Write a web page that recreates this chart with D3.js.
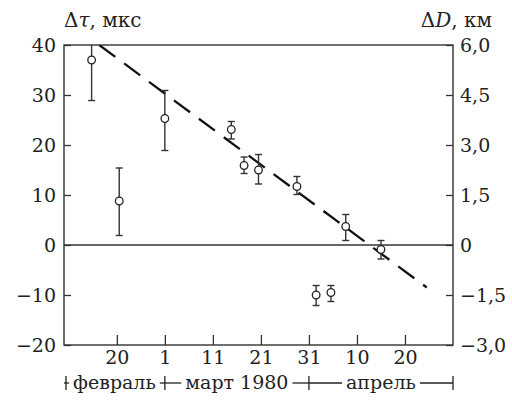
<!DOCTYPE html>
<html>
<head>
<meta charset="utf-8">
<script src="https://cdn.jsdelivr.net/npm/d3@7"></script>
<style>
  body { margin: 0; background: #fff; }
  svg text { font-family: "DejaVu Serif", "Liberation Serif", serif; fill: #222; }
</style>
</head>
<body>
<svg id="chart" width="512" height="405"></svg>
<script>
// Data
const obsDates = ['1980-02-14 18', '1980-02-20 12', '1980-03-01 00', '1980-03-14 20', '1980-03-17 12',
  '1980-03-20 12', '1980-03-28 12', '1980-04-01 12', '1980-04-04 14', '1980-04-07 16', '1980-04-15 00'];
const tauVal = [37.0, 8.8, 25.3, 23.1, 15.9, 15.0, 11.7, -10.0, -9.5, 3.7, -0.9];
const tauHigh = [45.0, 15.4, 30.9, 24.7, 17.6, 18.1, 13.7, -8.1, -8.1, 6.1, 0.9];
const tauLow = [28.9, 1.9, 18.9, 21.2, 14.3, 12.2, 10.1, -12.1, -11.3, 0.9, -2.8];

// fitted trend (dashed)
const trendDates = ['1980-02-16 08', '1980-04-24 13'];
const trendVal = [40, -8.5];

const xTicks = ['1980-02-20 00', '1980-03-01 00', '1980-03-11 00', '1980-03-21 00',
  '1980-03-31 00', '1980-04-10 00', '1980-04-20 00'];
const leftTicks = [-20, -10, 0, 10, 20, 30, 40];
const rightTicks = [-3, -1.5, 0, 1.5, 3, 4.5, 6];

const monthBounds = ['1980-02-09 00', '1980-03-01 00', '1980-03-31 00', '1980-04-30 00'];
const monthNames = ['февраль', 'март 1980', 'апрель'];

const parse = d3.timeParse('%Y-%m-%d %H');

const mLeft = 64, mRight = 453, mTop = 45, mBottom = 345;
const serif = '"DejaVu Serif", "Liberation Serif", serif';

const svg = d3.select('#chart');

const x = d3.scaleTime()
  .domain([parse(monthBounds[0]), parse(monthBounds[3])])
  .range([mLeft, mRight]);
const y = d3.scaleLinear().domain([-20, 40]).range([mBottom, mTop]);
const y2 = d3.scaleLinear().domain([-3, 6]).range([mBottom, mTop]);

const minus = s => s.replace('-', '\u2212');
const fmtRight = v => v === 0 ? '0' : minus(d3.format('.1f')(v).replace('.', ','));

svg.append('defs').append('clipPath').attr('id', 'plot')
  .append('rect').attr('x', mLeft).attr('y', mTop).attr('width', mRight - mLeft).attr('height', mBottom - mTop);

// axes
const gl = svg.append('g').attr('transform', `translate(${mLeft},0)`)
  .call(d3.axisLeft(y).tickValues(leftTicks).tickSize(-7).tickPadding(8).tickFormat(v => minus(String(v))));
const gr = svg.append('g').attr('transform', `translate(${mRight},0)`)
  .call(d3.axisRight(y2).tickValues(rightTicks).tickSize(-7).tickPadding(7).tickFormat(fmtRight));
const gb = svg.append('g').attr('transform', `translate(0,${mBottom})`)
  .call(d3.axisBottom(x).tickValues(xTicks.map(parse)).tickSize(-10).tickPadding(6).tickFormat(d3.timeFormat('%-d')));

[gl, gr, gb].forEach(g => {
  g.attr('font-family', serif).attr('font-size', 19);
  g.select('.domain').remove();
  g.selectAll('line').attr('stroke', '#333').attr('stroke-width', 1.3);
  g.selectAll('text').attr('fill', '#222');
});

// frame
svg.append('rect')
  .attr('x', mLeft).attr('y', mTop).attr('width', mRight - mLeft).attr('height', mBottom - mTop)
  .attr('fill', 'none').attr('stroke', '#333').attr('stroke-width', 1.4);

// zero line
svg.append('line')
  .attr('x1', mLeft).attr('x2', mRight).attr('y1', y(0)).attr('y2', y(0))
  .attr('stroke', '#333').attr('stroke-width', 1.4);

const plot = svg.append('g').attr('clip-path', 'url(#plot)');

// trend
plot.append('path')
  .datum(trendDates.map((d, i) => [parse(d), trendVal[i]]))
  .attr('d', d3.line().x(d => x(d[0])).y(d => y(d[1])))
  .attr('fill', 'none').attr('stroke', '#111').attr('stroke-width', 2.3)
  .attr('stroke-dasharray', '20 11');

// error bars and points
const obs = obsDates.map((d, i) => ({ t: parse(d), v: tauVal[i], hi: tauHigh[i], lo: tauLow[i] }));
const eb = plot.selectAll('g.eb').data(obs).join('g').attr('class', 'eb')
  .attr('stroke', '#333').attr('stroke-width', 1.4);
eb.append('line')
  .attr('x1', d => x(d.t)).attr('x2', d => x(d.t))
  .attr('y1', d => y(d.lo)).attr('y2', d => y(d.hi));
eb.append('line')
  .attr('x1', d => x(d.t) - 3.5).attr('x2', d => x(d.t) + 3.5)
  .attr('y1', d => y(d.lo)).attr('y2', d => y(d.lo));
eb.append('line')
  .attr('x1', d => x(d.t) - 3.5).attr('x2', d => x(d.t) + 3.5)
  .attr('y1', d => y(d.hi)).attr('y2', d => y(d.hi));

plot.selectAll('circle').data(obs).join('circle')
  .attr('cx', d => x(d.t)).attr('cy', d => y(d.v)).attr('r', 3.8)
  .attr('fill', '#fff').attr('stroke', '#222').attr('stroke-width', 1.3);

// axis titles
const t1 = svg.append('text').attr('x', mLeft).attr('y', 27).attr('font-size', 20);
t1.append('tspan').text('Δ');
t1.append('tspan').attr('font-style', 'italic').text('τ');
t1.append('tspan').text(', мкс');

const t2 = svg.append('text').attr('x', 492).attr('y', 27).attr('font-size', 20).attr('text-anchor', 'end');
t2.append('tspan').text('Δ');
t2.append('tspan').attr('font-style', 'italic').text('D');
t2.append('tspan').text(', км');

// month brackets
const my = 383;
const mg = svg.append('g').attr('stroke', '#222').attr('stroke-width', 1.3);
monthBounds.forEach((b, i) => {
  const bx = x(parse(b)) + (i === 0 ? 2 : 0);
  mg.append('line').attr('x1', bx).attr('x2', bx).attr('y1', my - 7).attr('y2', my + 7);
});
monthNames.forEach((m, i) => {
  const x0 = x(parse(monthBounds[i])), x1 = x(parse(monthBounds[i + 1]));
  const txt = svg.append('text').attr('x', (x0 + x1) / 2).attr('y', my + 6)
    .attr('text-anchor', 'middle').attr('font-size', 19).text(m);
  const bb = txt.node().getBBox();
  if (bb.x - 4 > x0 + 2) mg.append('line').attr('x1', x0).attr('x2', bb.x - 4).attr('y1', my).attr('y2', my);
  if (bb.x + bb.width + 4 < x1 - 2) mg.append('line').attr('x1', bb.x + bb.width + 4).attr('x2', x1).attr('y1', my).attr('y2', my);
});
</script>
</body>
</html>
